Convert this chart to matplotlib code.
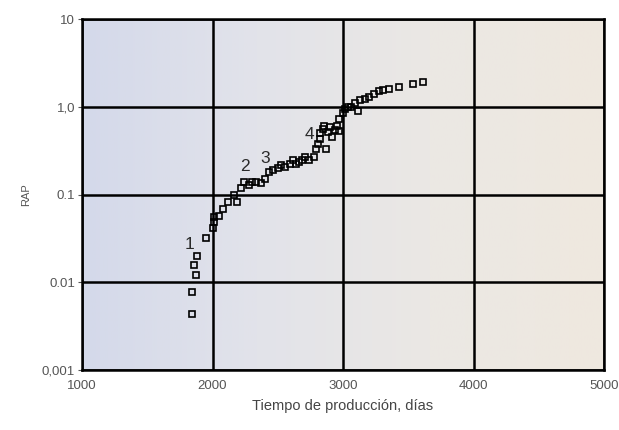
import matplotlib.pyplot as plt
import numpy as np
from matplotlib.colors import LinearSegmentedColormap

plt.rcParams['font.family'] = ['Liberation Sans', 'DejaVu Sans']

# datos
dias = [1844, 1844, 1871, 1859, 1883, 1947, 2005, 2011, 2015, 2050, 2077, 2117,
        2162, 2187, 2220, 2244, 2281, 2300, 2335, 2372, 2402, 2432, 2463, 2502,
        2527, 2554, 2593, 2615, 2639, 2660, 2684, 2706, 2739, 2776, 2791, 2806,
        2821, 2827, 2845, 2857, 2866, 2882, 2897, 2912, 2936, 2951, 2967, 2967,
        2997, 3018, 3035, 3058, 3094, 3118, 3131, 3170, 3200, 3240, 3276, 3307,
        3352, 3428, 3534, 3610]
rap = [0.0044, 0.0078, 0.012, 0.0157, 0.020, 0.0316, 0.042, 0.048, 0.056, 0.057,
       0.069, 0.083, 0.099, 0.083, 0.119, 0.138, 0.13, 0.14, 0.138, 0.134, 0.149,
       0.18, 0.19, 0.20, 0.215, 0.205, 0.22, 0.245, 0.22, 0.235, 0.25, 0.265, 0.25,
       0.27, 0.33, 0.38, 0.43, 0.50, 0.56, 0.60, 0.33, 0.51, 0.59, 0.45, 0.54, 0.60,
       0.53, 0.72, 0.84, 0.95, 1.0, 1.0, 1.1, 0.9, 1.2, 1.23, 1.3, 1.4, 1.5, 1.55,
       1.6, 1.7, 1.8, 1.9]

etiquetas = ['1', '2', '3', '4']
etiq_x = [1820, 2250, 2402, 2745]
etiq_y = [0.027, 0.21, 0.255, 0.48]

xticks = [1000, 2000, 3000, 4000, 5000]
xtick_labels = ['1000', '2000', '3000', '4000', '5000']
yticks = [0.001, 0.01, 0.1, 1, 10]
ytick_labels = ['0,001', '0.01', '0.1', '1,0', '10']

fig = plt.figure(figsize=(6.19, 4.30), dpi=100)
ax = fig.add_axes([0.1325, 0.1395, 0.8433, 0.8163])

# fondo degradado azul -> beige
cmap = LinearSegmentedColormap.from_list('fondo', ['#d4d9ea', '#e2e3ea', '#ebe8e4', '#efe8df'])
grad = np.linspace(0, 1, 256).reshape(1, -1)
ax.imshow(grad, cmap=cmap, aspect='auto', extent=[0, 1, 0, 1],
          transform=ax.transAxes, zorder=0)

ax.set_yscale('log')
ax.plot(dias, rap, linestyle='none', marker='s', markersize=4.8,
        markerfacecolor='none', markeredgecolor='black', markeredgewidth=1.2, zorder=3)

for t, x, y in zip(etiquetas, etiq_x, etiq_y):
    ax.text(x, y, t, fontsize=12.5, color='#2a2a2a', ha='center', va='center', zorder=4)

ax.set_xlim(1000, 5000)
ax.set_ylim(0.001, 10)
ax.set_xticks(xticks)
ax.set_xticklabels(xtick_labels)
ax.set_yticks(yticks)
ax.set_yticklabels(ytick_labels)
ax.yaxis.set_minor_locator(plt.NullLocator())
ax.tick_params(axis='both', colors='#555555', labelsize=9.5, length=3)
ax.tick_params(axis='x', length=0, pad=7)
ax.tick_params(axis='y', pad=2)
ax.grid(True, color='black', linewidth=1.8, zorder=1)
ax.set_axisbelow(True)
for s in ax.spines.values():
    s.set_linewidth(1.8)
    s.set_color('black')

ax.set_xlabel('Tiempo de producción, días', fontsize=10.5, color='#444444', labelpad=5)
ax.set_ylabel('RAP', fontsize=8, color='#555555', labelpad=8)

fig.savefig('out.png', dpi=100)
